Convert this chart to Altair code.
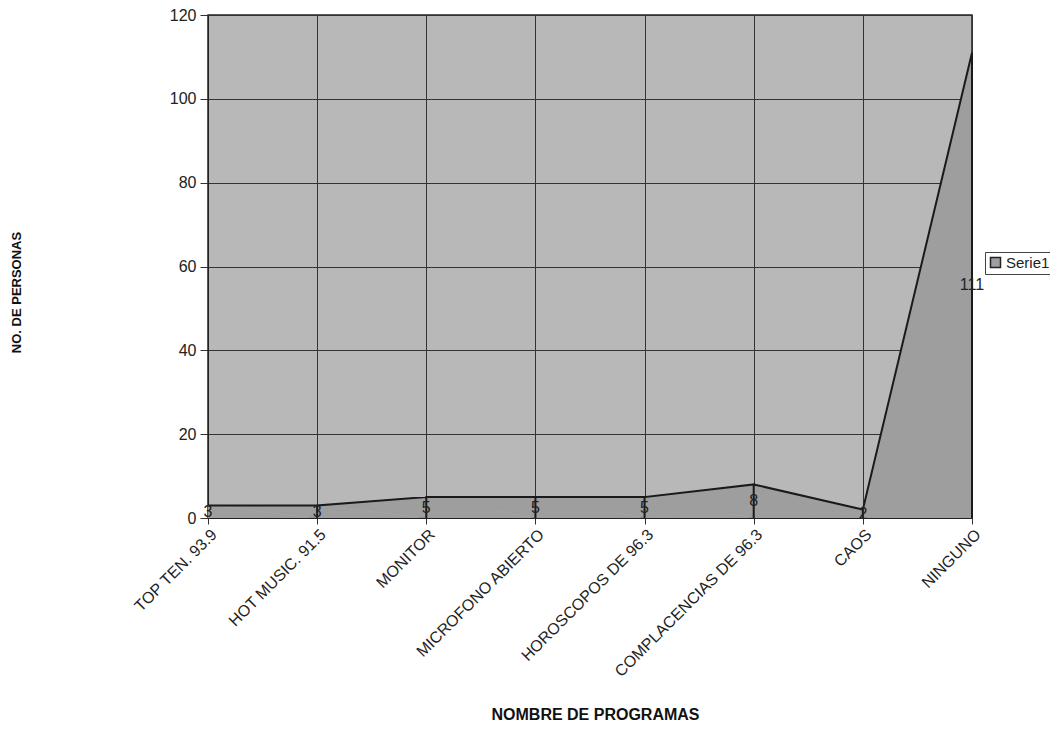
import altair as alt
import pandas as pd

programas = ["TOP TEN. 93.9", "HOT MUSIC. 91.5", "MONITOR", "MICROFONO ABIERTO",
             "HOROSCOPOS DE 96.3", "COMPLACENCIAS DE 96.3", "CAOS", "NINGUNO"]
personas = [3, 3, 5, 5, 5, 8, 2, 111]
serie = ["Serie1"] * len(programas)

df = pd.DataFrame({"programa": programas, "personas": personas, "serie": serie})
df["mid"] = df["personas"] / 2
df["idx"] = range(len(df))

FONT = "Liberation Sans"

xenc = alt.X("programa:N", sort=programas,
             scale=alt.Scale(type="point", padding=0),
             axis=alt.Axis(title="NOMBRE DE PROGRAMAS", labelAngle=-45, labelFontSize=16,
                           labelLimit=400,
                           labelFont=FONT, labelColor="#222", titleFont=FONT, titleFontSize=16,
                           titleFontWeight="bold", titleColor="#111", titleX=387, titleY=201,
                           titleBaseline="alphabetic", titleAlign="center",
                           grid=True, gridColor="#333", gridWidth=1, tickSize=6,
                           tickColor="#333", domainColor="#222", labelPadding=2))

yenc = alt.Y("personas:Q", scale=alt.Scale(domain=[0, 120], nice=False),
             axis=alt.Axis(title="NO. DE PERSONAS", values=[0, 20, 40, 60, 80, 100, 120],
                           labelFontSize=16, labelFont=FONT, labelColor="#222",
                           titleFont=FONT, titleFontSize=13, titleFontWeight="bold",
                           titleColor="#111", titleX=-192, titleY=277, titleAngle=-90,
                           titleBaseline="middle", titleAlign="center",
                           grid=True, gridColor="#333", gridWidth=1, tickSize=8,
                           tickColor="#333", domainColor="#222", labelPadding=4))

area = alt.Chart(df).mark_area(color="#9e9e9e", opacity=1, line={"color": "#1a1a1a", "strokeWidth": 2}).encode(
    x=xenc, y=yenc,
    order=alt.Order("idx:Q"),
    fill=alt.Fill("serie:N", scale=alt.Scale(range=["#9e9e9e"]),
                  legend=alt.Legend(title=None, orient="none", legendX=777, legendY=237,
                                    symbolType="square", symbolStrokeColor="#222",
                                    symbolStrokeWidth=1.5, symbolSize=100, labelOffset=3,
                                    labelFont=FONT, labelFontSize=15, labelColor="#222",
                                    strokeColor="#444", padding=3, fillColor="white")))

text = alt.Chart(df).mark_text(font=FONT, fontSize=16, color="#222", baseline="middle").encode(
    x=alt.X("programa:N", sort=programas), y=alt.Y("mid:Q"), text="personas:Q")

chart = alt.layer(area, text).properties(
    width=764, height=503,
    autosize=alt.AutoSizeParams(type="none"),
    padding={"left": 200, "top": 7, "right": 78, "bottom": 203},
    background="white",
).configure_view(fill="#b8b8b8", stroke="#222", strokeWidth=1.5)

chart.save("out.html", embed_options={"renderer": "svg", "actions": False})
